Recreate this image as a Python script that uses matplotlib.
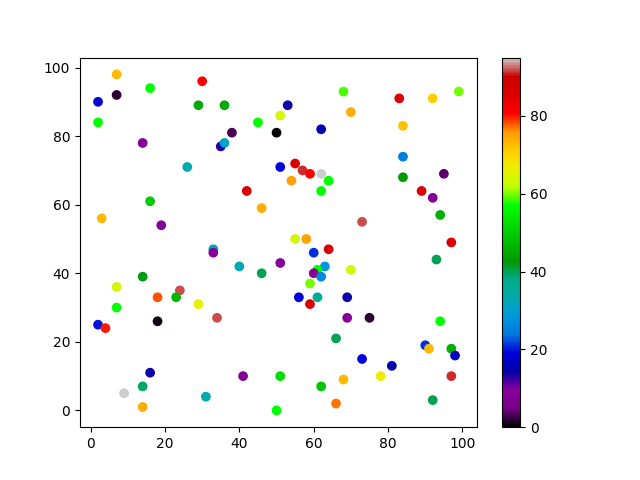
import matplotlib
matplotlib.use("Agg")
import matplotlib.pyplot as plt

# point positions and colour values
x = [2, 7, 30, 16, 7, 29, 36, 2, 45, 50,
     38, 14, 35, 36, 26, 42, 46, 16, 3, 19,
     68, 83, 92, 99, 53, 51, 70, 84, 62, 84,
     51, 55, 57, 59, 62, 54, 64, 62, 84, 95,
     89, 92, 94, 73, 55, 58, 97, 33, 33, 40,
     46, 14, 7, 18, 24, 23, 7, 29, 34, 2,
     4, 18, 16, 41, 9, 14, 31, 14, 50, 60,
     64, 51, 93, 63, 61, 60, 62, 70, 59, 56,
     61, 69, 59, 69, 75, 94, 66, 90, 91, 97,
     98, 73, 81, 51, 62, 68, 78, 97, 66, 92]
y = [90, 98, 96, 94, 92, 89, 89, 84, 84, 81,
     81, 78, 77, 78, 71, 64, 59, 61, 56, 54,
     93, 91, 91, 93, 89, 86, 87, 83, 82, 74,
     71, 72, 70, 69, 69, 67, 67, 64, 68, 69,
     64, 62, 57, 55, 50, 50, 49, 47, 46, 42,
     40, 39, 36, 33, 35, 33, 30, 31, 27, 25,
     24, 26, 11, 10, 5, 7, 4, 1, 0, 46,
     47, 43, 44, 42, 41, 40, 39, 41, 37, 33,
     33, 33, 31, 27, 27, 26, 21, 19, 18, 18,
     16, 15, 13, 10, 7, 9, 10, 10, 2, 3]
colors = [18, 73, 81, 57, 2, 45, 45, 57, 57, 0,
          3, 9, 13, 31, 33, 86, 74, 50, 73, 10,
          59, 86, 71, 60, 14, 64, 74, 72, 15, 25,
          19, 86, 91, 81, 95, 75, 57, 57, 43, 4,
          86, 9, 46, 92, 64, 75, 86, 33, 9, 33,
          40, 42, 64, 78, 92, 47, 57, 66, 92, 20,
          80, 1, 14, 8, 95, 39, 33, 74, 57, 21,
          86, 9, 40, 28, 57, 9, 26, 64, 60, 19,
          36, 14, 86, 9, 2, 57, 40, 21, 73, 46,
          16, 19, 15, 52, 49, 73, 67, 91, 77, 40]

fig = plt.figure(figsize=(6.4, 4.8), dpi=100)
plt.scatter(x, y, c=colors, cmap='nipy_spectral')
plt.colorbar()
plt.savefig("out.png")
